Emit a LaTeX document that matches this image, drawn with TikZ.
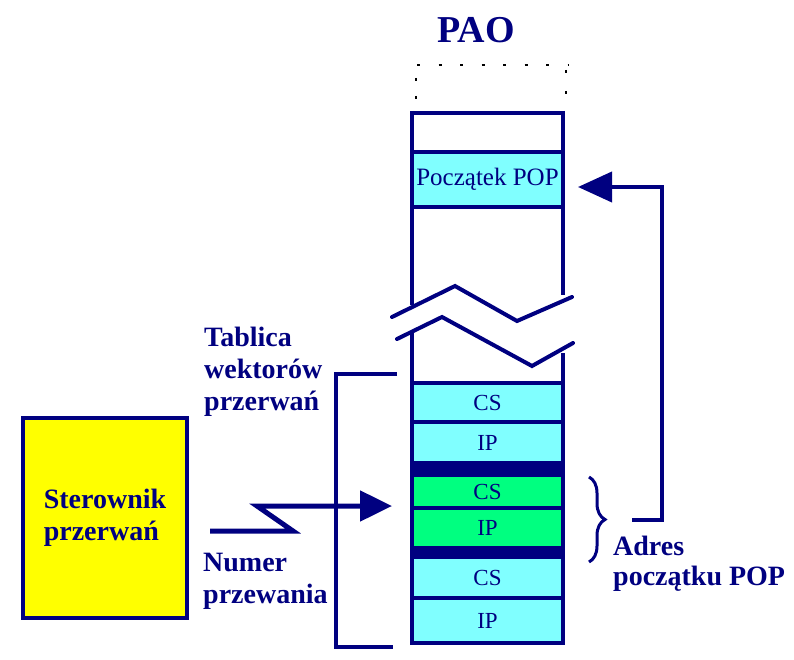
\documentclass[tikz,border=0pt]{standalone}
\usepackage{fontspec}
\setmainfont{Liberation Serif}
\usetikzlibrary{arrows.meta,decorations.pathreplacing}
\definecolor{navy}{RGB}{0,0,128}
\definecolor{cellcyan}{RGB}{128,255,255}
\definecolor{cellgreen}{RGB}{0,255,128}
\definecolor{ctrlyellow}{RGB}{255,255,0}
\begin{document}
\begin{tikzpicture}[x=1pt,y=-1pt,
  cell/.style={draw=navy, line width=3.5, minimum width=151, inner sep=0, text=navy,
    font=\fontsize{23}{23}\selectfont},
  cyancell/.style={cell, fill=cellcyan},
  greencell/.style={cell, fill=cellgreen},
  band/.style={fill=navy, minimum width=151, inner sep=0, draw=none},
  colside/.style={navy, line width=4},
  breakline/.style={navy, line width=4, line cap=round, line join=miter},
  lbl/.style={text=navy, inner sep=0, font=\fontsize{28}{32}\selectfont\bfseries, align=left},
  navyline/.style={navy, line width=4, line join=miter},
  dotted edge/.style={black, line width=1.5},
]
\useasboundingbox (0,0) rectangle (794,660);

% title
\node[text=navy, inner sep=0, font=\fontsize{38}{38}\selectfont\bfseries, anchor=base] (pao) at (476,43) {PAO};

% dotted top of memory
\draw[dotted edge, dash pattern=on 3 off 18.5] (417,65) -- (568,65);
\draw[dotted edge, dash pattern=on 3 off 15] (416,78) -- (416,102);
\draw[dotted edge, dash pattern=on 3 off 18] (566,70) -- (566,102);

% memory rows (upper part)
\node[cell, fill=white, minimum height=39] (empty) at (487.5,132.5) {};
\node[cyancell, minimum height=55, font=\fontsize{25}{25}\selectfont] (pocz) at (487.5,179.5) {Początek POP};

% memory rows (lower part)
\node[cyancell, minimum height=39] (cs1) at (487.5,402.5) {CS};
\node[cyancell, minimum height=41] (ip1) at (487.5,442.5) {IP};
\node[band, minimum height=12] (band1) at (487.5,469) {};
\node[greencell, minimum height=33] (cs2) at (487.5,491.5) {CS};
\node[greencell, minimum height=40] (ip2) at (487.5,528) {IP};
\node[band, minimum height=9] (band2) at (487.5,552.5) {};
\node[cyancell, minimum height=41] (cs3) at (487.5,577.5) {CS};
\node[cyancell, minimum height=45] (ip3) at (487.5,620.5) {IP};

% column sides
\draw[colside] (412,111) -- (412,305);
\draw[colside] (563,111) -- (563,295);
\draw[colside] (412,333) -- (412,645);
\draw[colside] (563,353) -- (563,645);

% break lines
\draw[breakline] (392,317) -- (455,286) -- (517,321) -- (572,297);
\draw[breakline] (397,339) -- (442,317) -- (532,366) -- (573,343);

% bracket of the vector table
\draw[navy, line width=3.5] (397,374) -- (336,374) -- (336,647) -- (393,647);

% labels (base anchor = baseline of last line)
\node[lbl, anchor=base west] (tabl) at (204,410) {Tablica\\wektorów\\przerwań};
\node[lbl, anchor=base west] (num) at (203,603) {Numer\\przewania};
\node[lbl, anchor=base west, font=\fontsize{28}{30}\selectfont\bfseries] (adr) at (613,585) {Adres\\początku POP};

% interrupt controller
\node[draw=navy, line width=4, fill=ctrlyellow, minimum width=164, minimum height=200,
  text=navy, font=\fontsize{28}{32}\selectfont\bfseries, align=left] (ster) at (105,518) {Sterownik\\przerwań};

% lightning arrow from controller to vector
\coordinate (zstart) at (210,531);
\coordinate (zend) at (392,506);
\draw[navyline, line width=5, -{Triangle[length=32pt,width=30pt]}]
  (zstart) -- (293,531) -- (257,506) -- (zend);

% brace
\draw[navy, line width=3, decorate, decoration={brace, amplitude=16}] (589,477) -- (589,562);

% arrow from address to start of routine
\coordinate (astart) at (632,520);
\coordinate (aend) at (578,187);
\draw[navyline, -{Triangle[length=34pt,width=30pt]}]
  (astart) -- (662,520) -- (662,187) -- (aend);
\end{tikzpicture}
\end{document}
